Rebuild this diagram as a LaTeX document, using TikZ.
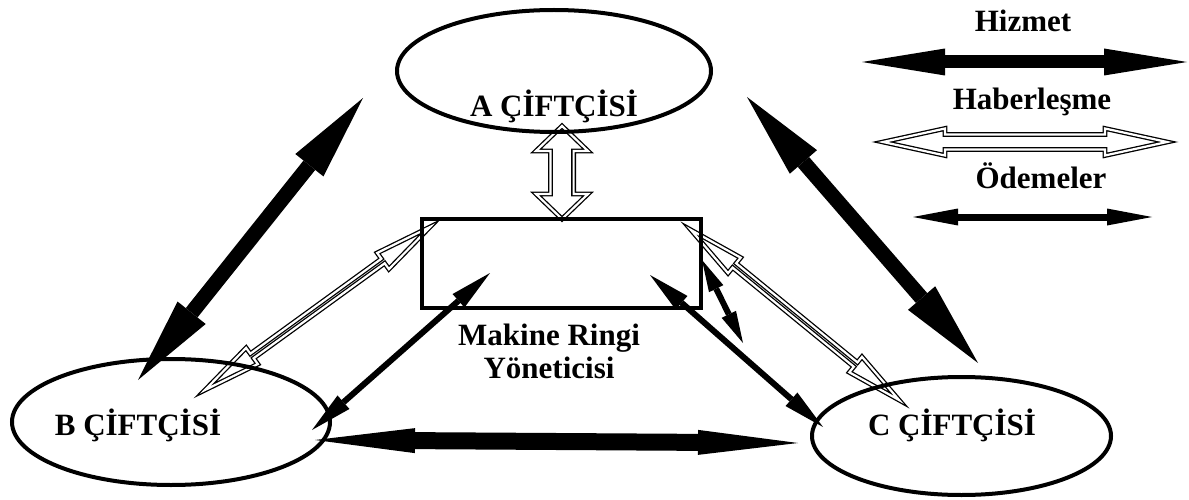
\documentclass[tikz,border=0pt]{standalone}
\usepackage{fontspec}
\setmainfont{Liberation Serif}
\usetikzlibrary{arrows.meta,calc,shapes.geometric}

\tikzset{
  farmer/.style={ellipse, draw, line width=4pt, inner sep=0pt},
  office/.style={rectangle, draw, line width=4.5pt, inner sep=0pt},
  caption/.style={font=\bfseries\fontsize{31}{34}\selectfont, inner sep=0pt, anchor=base},
  blockarrow/.style n args={3}{line width=#1,
    arrows={Triangle[length=#2,width=#3,line width=0pt]-Triangle[length=#2,width=#3,line width=0pt]}},
  service/.style={blockarrow={15pt}{86pt}{36pt}},
  payment/.style={blockarrow={6pt}{42pt}{18pt}},
  hollow/.style={draw=black, line width=1.3pt, double=white, double distance=2.2pt,
    fill=white, line join=miter}
}

% hollow double-headed block arrow: [style] start, end, shaft half-width, head length, head half-width
\newcommand\hollowarrow[6][]{%
  \coordinate (ha) at ($(#2)!#5!(#3)$);
  \coordinate (hb) at ($(#3)!#5!(#2)$);
  \draw[hollow,#1] (#2) -- ($(ha)!#6!90:(#3)$) -- ($(ha)!#4!90:(#3)$)
    -- ($(hb)!#4!-90:(#2)$) -- ($(hb)!#6!-90:(#2)$) -- (#3)
    -- ($(hb)!#6!90:(#2)$) -- ($(hb)!#4!90:(#2)$)
    -- ($(ha)!#4!-90:(#3)$) -- ($(ha)!#6!-90:(#3)$) -- cycle;
}

\begin{document}
\begin{tikzpicture}[x=1pt,y=-1pt]
\useasboundingbox (0,0) rectangle (1189,500);

% connector end points
\coordinate (sAB1) at (138,380);  \coordinate (sAB2) at (363,98);
\coordinate (sAC1) at (747,97);   \coordinate (sAC2) at (978,363);
\coordinate (sBC1) at (315,440);  \coordinate (sBC2) at (798,443);
\coordinate (cA1) at (562,126);   \coordinate (cA2) at (562,219);
\coordinate (cB1) at (205,390);   \coordinate (cB2) at (430,227);
\coordinate (cC1) at (691,230);   \coordinate (cC2) at (899,400);
\coordinate (pB1) at (490,273);   \coordinate (pB2) at (312,430);
\coordinate (pC1) at (650,275);   \coordinate (pC2) at (823,427);
\coordinate (pS1) at (702,260);   \coordinate (pS2) at (743,343);

% legend end points
\coordinate (lgS1) at (862,62);   \coordinate (lgS2) at (1187,62);
\coordinate (lgC1) at (883,142);  \coordinate (lgC2) at (1167,142);
\coordinate (lgP1) at (913,217);  \coordinate (lgP2) at (1152,217);

% service flows
\draw[service] (sAB1) -- (sAB2);
\draw[service] (sAC1) -- (sAC2);
\draw[blockarrow={17pt}{100pt}{25pt}] (sBC1) -- (sBC2);

% communication flows
\hollowarrow{cA1}{cA2}{11.6pt}{25pt}{26pt}
\hollowarrow{cB1}{cB2}{2.8pt}{58pt}{10pt}
\hollowarrow{cC1}{cC2}{2.8pt}{56pt}{10pt}

% payment flows
\draw[payment] (pB1) -- (pB2);
\draw[payment] (pC1) -- (pC2);
\draw[blockarrow={6pt}{32pt}{16pt}] (pS1) -- (pS2);

% farmers and the ring manager
\node[farmer, minimum width=314pt, minimum height=122pt] (farmA) at (554,71) {};
\node[farmer, minimum width=318pt, minimum height=126pt] (farmB) at (171,422) {};
\node[farmer, minimum width=299pt, minimum height=118pt] (farmC) at (961.5,436) {};
\node[office, minimum width=279pt, minimum height=89pt] (ring) at (561.5,263.5) {};

\node[caption] (tA) at (554,117) {A ÇİFTÇİSİ};
\node[caption] (tB) at (138,435) {B ÇİFTÇİSİ};
\node[caption] (tC) at (952,435) {C ÇİFTÇİSİ};
\node[caption] (tR1) at (549,345) {Makine Ringi};
\node[caption] (tR2) at (549,378) {Yöneticisi};

% legend
\node[caption] (kS) at (1023,32) {Hizmet};
\node[caption] (kC) at (1032,110) {Haberleşme};
\node[caption] (kP) at (1041,188) {Ödemeler};
\draw[blockarrow={13pt}{83pt}{27pt}] (lgS1) -- (lgS2);
\hollowarrow{lgC1}{lgC2}{7.5pt}{62pt}{13.5pt}
\draw[blockarrow={7pt}{45pt}{17pt}] (lgP1) -- (lgP2);
\end{tikzpicture}
\end{document}
